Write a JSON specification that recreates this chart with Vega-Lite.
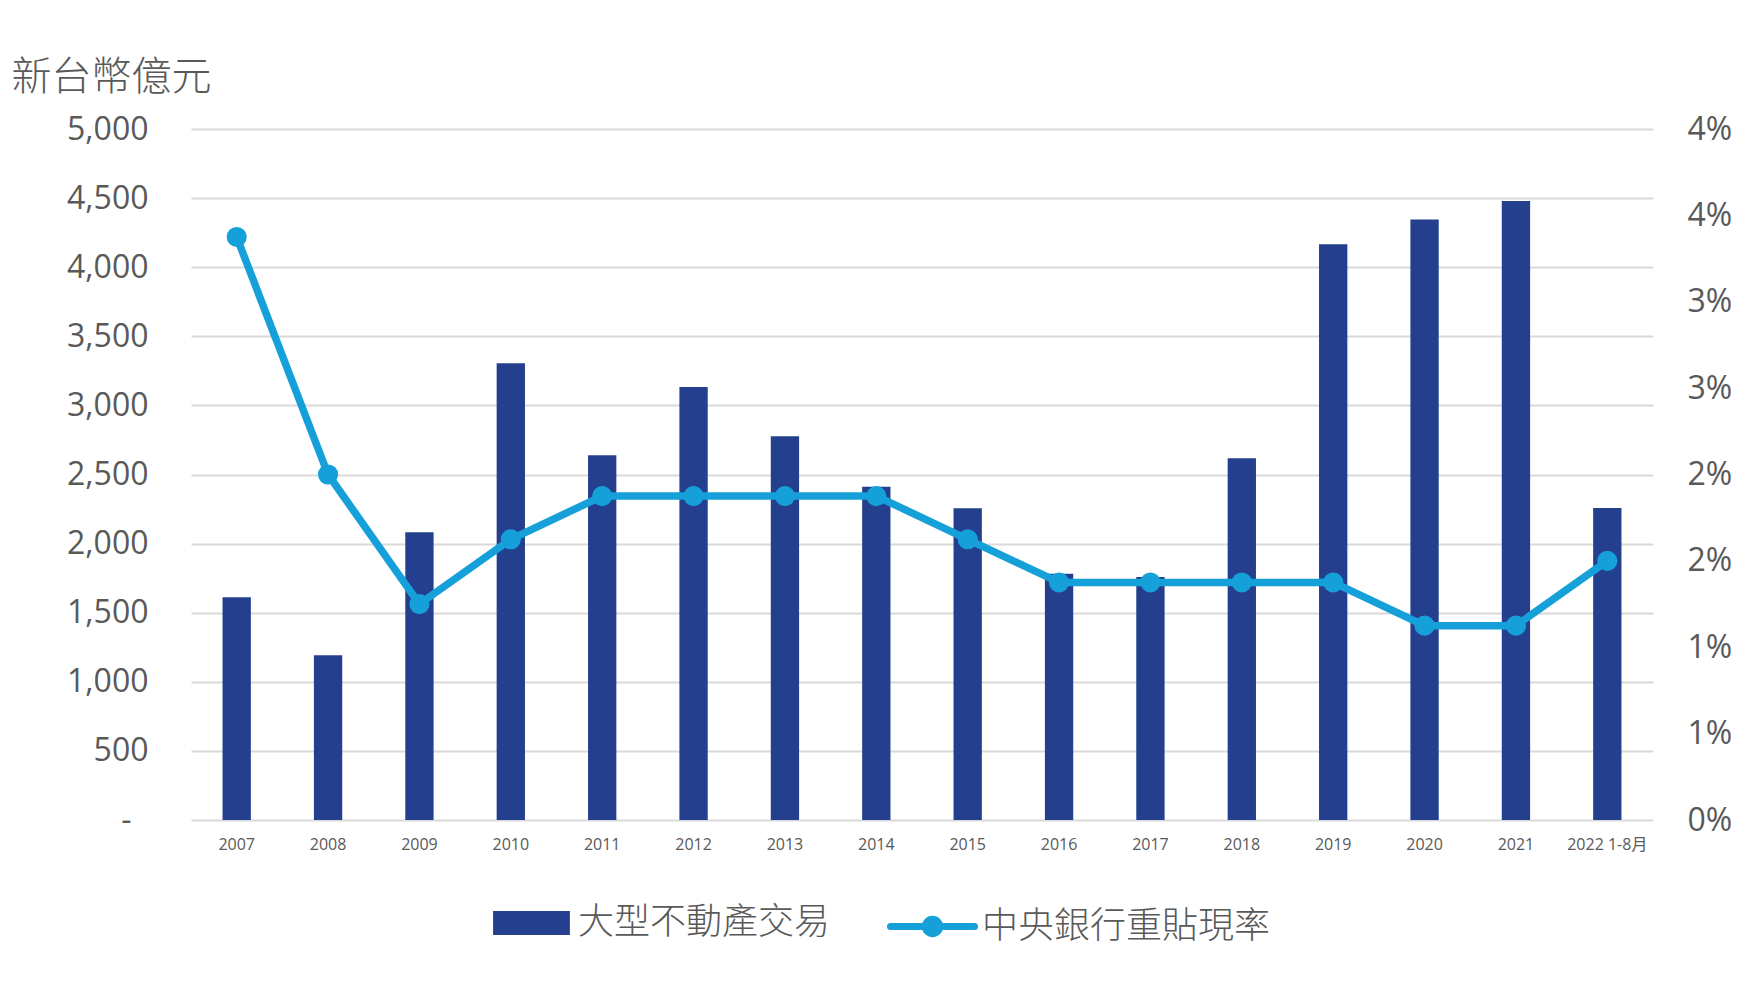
{
  "$schema": "https://vega.github.io/schema/vega-lite/v6.json",
  "autosize": {"type": "none"},
  "width": 1462,
  "height": 691,
  "padding": {"left": 191, "top": 129, "right": 93, "bottom": 172},
  "background": "white",
  "config": {
    "view": {"stroke": null},
    "font": "Open Sans, Noto Sans CJK TC",
    "axis": {
      "domain": false,
      "ticks": false,
      "gridColor": "#d9d9d9",
      "gridWidth": 2,
      "labelColor": "#595959",
      "labelFont": "Open Sans, Noto Sans CJK TC"
    },
    "legend": {"padding": 0}
  },
  "data": {
    "values": [
      {"year": "2007", "trade": 1612, "rate": 3.375},
      {"year": "2008", "trade": 1193, "rate": 2.0},
      {"year": "2009", "trade": 2082, "rate": 1.25},
      {"year": "2010", "trade": 3305, "rate": 1.625},
      {"year": "2011", "trade": 2640, "rate": 1.875},
      {"year": "2012", "trade": 3134, "rate": 1.875},
      {"year": "2013", "trade": 2777, "rate": 1.875},
      {"year": "2014", "trade": 2411, "rate": 1.875},
      {"year": "2015", "trade": 2255, "rate": 1.625},
      {"year": "2016", "trade": 1782, "rate": 1.375},
      {"year": "2017", "trade": 1759, "rate": 1.375},
      {"year": "2018", "trade": 2617, "rate": 1.375},
      {"year": "2019", "trade": 4166, "rate": 1.375},
      {"year": "2020", "trade": 4346, "rate": 1.125},
      {"year": "2021", "trade": 4479, "rate": 1.125},
      {"year": "2022 1-8月", "trade": 2258, "rate": 1.5}
    ]
  },
  "encoding": {
    "x": {
      "field": "year",
      "type": "nominal",
      "sort": null,
      "scale": {"paddingInner": 0.69, "paddingOuter": 0.345},
      "axis": {
        "title": null,
        "labelAngle": 0,
        "labelFontSize": 16,
        "labelPadding": 16,
        "grid": false
      }
    }
  },
  "layer": [
    {
      "mark": {"type": "bar", "color": "#243f8e"},
      "encoding": {
        "y": {
          "field": "trade",
          "type": "quantitative",
          "scale": {"domain": [0, 5000], "nice": false},
          "axis": {
            "values": [0, 500, 1000, 1500, 2000, 2500, 3000, 3500, 4000, 4500, 5000],
            "labelExpr": "datum.value === 0 ? '-' : format(datum.value, ',')",
            "labelFontSize": 32,
            "labelPadding": {"condition": {"test": "datum.value === 0", "value": 60}, "value": 43},
            "grid": true,
            "title": "新台幣億元",
            "titleAngle": 0,
            "titleAlign": "left",
            "titleBaseline": "alphabetic",
            "titleX": -180,
            "titleY": -40,
            "titleFontSize": 40,
            "titleFontWeight": 300,
            "titleColor": "#595959",
            "titleFont": "Noto Sans CJK TC"
          }
        },
        "fill": {
          "datum": "大型不動產交易",
          "scale": {"range": ["#243f8e"]},
          "legend": {
            "title": null,
            "orient": "none",
            "legendX": 316.5,
            "legendY": 770,
            "symbolType": "M-1.6,-0.5H1.6V0.5H-1.6Z",
            "symbolSize": 2304,
            "symbolStrokeWidth": 0,
            "labelOffset": 22.5,
            "labelFontSize": 36,
            "labelFont": "Noto Sans CJK TC",
            "labelFontWeight": 300,
            "labelColor": "#595959",
            "labelLimit": 0
          }
        }
      }
    },
    {
      "mark": {
        "type": "line",
        "strokeWidth": 7.5,
        "strokeJoin": "round",
        "point": {"filled": true, "size": 330, "color": "#16a0d9"}
      },
      "encoding": {
        "y": {
          "field": "rate",
          "type": "quantitative",
          "scale": {"domain": [0, 4], "nice": false},
          "axis": {
            "orient": "right",
            "values": [0, 0.5, 1, 1.5, 2, 2.5, 3, 3.5, 4],
            "labelExpr": "round(datum.value) + '%'",
            "labelFontSize": 32,
            "labelPadding": 34,
            "grid": false,
            "title": null
          }
        },
        "stroke": {
          "datum": "中央銀行重貼現率",
          "scale": {"range": ["#16a0d9"]},
          "legend": {
            "title": null,
            "orient": "none",
            "legendX": 714,
            "legendY": 770,
            "symbolType": "M-1.75,0H1.75M0.3,0A0.3,0.3,0,1,1,-0.3,0A0.3,0.3,0,1,1,0.3,0Z",
            "symbolSize": 2304,
            "symbolStrokeWidth": 7,
            "symbolFillColor": "#16a0d9",
            "labelOffset": 22,
            "labelFontSize": 36,
            "labelFont": "Noto Sans CJK TC",
            "labelFontWeight": 300,
            "labelColor": "#595959",
            "labelLimit": 0,
            "encode": {
              "symbols": {
                "update": {
                  "fill": {"value": "#16a0d9"},
                  "stroke": {"value": "#16a0d9"},
                  "strokeWidth": {"value": 7},
                  "strokeCap": {"value": "round"}
                }
              }
            }
          }
        }
      }
    }
  ],
  "resolve": {"scale": {"y": "independent"}}
}
